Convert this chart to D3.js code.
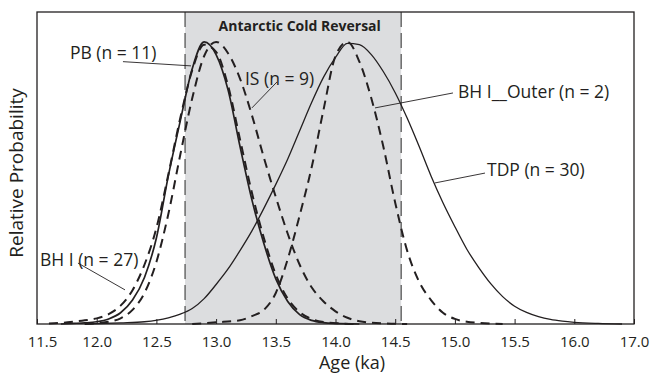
<!DOCTYPE html>
<html>
<head>
<meta charset="utf-8">
<script src="https://cdn.jsdelivr.net/npm/d3@7"></script>
<style>
  body { margin: 0; background: #fff; }
  text { font-family: "Open Sans", "DejaVu Sans", sans-serif; fill: #231f20; }
</style>
</head>
<body>
<svg id="chart" width="664" height="375"></svg>
<script>
// x axis: ticks and the labels printed under them (the original prints 17.0 at the last tick)
const tickValues = [11.5, 12.0, 12.5, 13.0, 13.5, 14.0, 14.5, 15.0, 15.5, 16.0, 16.5];
const tickLabels = ["11.5", "12.0", "12.5", "13.0", "13.5", "14.0", "14.5", "15.0", "15.5", "16.0", "17.0"];

// Antarctic Cold Reversal interval (ka)
const acrInterval = [12.74, 14.55];

// relative probability curves: [age ka, relative probability]
const pb = [
  [11.7, 0], [11.8, 0.002], [11.9, 0.004], [12.0, 0.008], [12.1, 0.018], [12.2, 0.04],
  [12.3, 0.085], [12.4, 0.165], [12.5, 0.305], [12.6, 0.525], [12.7, 0.72], [12.8, 0.905],
  [12.9, 1.0], [13.0, 0.955], [13.1, 0.83], [13.2, 0.63], [13.3, 0.44], [13.4, 0.285],
  [13.5, 0.16], [13.6, 0.08], [13.7, 0.033], [13.8, 0.013], [13.9, 0.005], [14.0, 0.002], [14.2, 0]
];
const bhI = [
  [11.6, 0.002], [11.7, 0.004], [11.8, 0.008], [11.9, 0.013], [12.0, 0.02], [12.1, 0.035],
  [12.2, 0.065], [12.3, 0.12], [12.4, 0.21], [12.5, 0.34], [12.6, 0.53], [12.7, 0.73],
  [12.8, 0.9], [12.9, 0.99], [13.0, 0.965], [13.1, 0.845], [13.2, 0.655], [13.3, 0.465],
  [13.4, 0.305], [13.5, 0.175], [13.6, 0.09], [13.7, 0.042], [13.8, 0.018], [13.9, 0.007],
  [14.0, 0.003], [14.2, 0]
];
const is = [
  [11.9, 0], [12.0, 0.003], [12.1, 0.008], [12.2, 0.02], [12.3, 0.05], [12.4, 0.11],
  [12.5, 0.22], [12.6, 0.39], [12.7, 0.6], [12.8, 0.8], [12.9, 0.95], [13.0, 1.0],
  [13.1, 0.96], [13.2, 0.87], [13.3, 0.74], [13.4, 0.59], [13.5, 0.45], [13.6, 0.32],
  [13.7, 0.21], [13.8, 0.13], [13.9, 0.08], [14.0, 0.045], [14.1, 0.022], [14.2, 0.01],
  [14.4, 0.002], [14.6, 0]
];
const tdp = [
  [11.9, 0], [12.2, 0.004], [12.4, 0.008], [12.6, 0.022], [12.7, 0.035], [12.8, 0.055],
  [12.9, 0.09], [13.0, 0.14], [13.1, 0.195], [13.2, 0.26], [13.3, 0.33], [13.4, 0.41],
  [13.5, 0.495], [13.6, 0.585], [13.7, 0.685], [13.8, 0.785], [13.9, 0.875], [14.0, 0.945],
  [14.1, 0.995], [14.2, 0.99], [14.3, 0.955], [14.4, 0.895], [14.5, 0.82], [14.6, 0.73],
  [14.7, 0.63], [14.8, 0.525], [14.9, 0.43], [15.0, 0.345], [15.1, 0.265], [15.2, 0.2],
  [15.3, 0.143], [15.4, 0.097], [15.5, 0.063], [15.6, 0.041], [15.7, 0.026], [15.8, 0.016],
  [15.9, 0.01], [16.0, 0.006], [16.2, 0.002], [16.4, 0]
];
const bhIOuter = [
  [12.8, 0], [13.0, 0.006], [13.2, 0.013], [13.3, 0.028], [13.4, 0.05], [13.5, 0.11],
  [13.6, 0.23], [13.7, 0.385], [13.8, 0.555], [13.9, 0.76], [14.0, 0.95], [14.1, 1.0],
  [14.2, 0.93], [14.3, 0.8], [14.4, 0.63], [14.5, 0.43], [14.6, 0.26], [14.7, 0.15],
  [14.8, 0.085], [14.9, 0.04], [15.0, 0.018], [15.1, 0.008], [15.2, 0.004], [15.4, 0]
];

const curves = [
  {name: "TDP", data: tdp, dashed: false, width: 1.3},
  {name: "BH I__Outer", data: bhIOuter, dashed: true, width: 2},
  {name: "IS", data: is, dashed: true, width: 2},
  {name: "BH I", data: bhI, dashed: true, width: 2},
  {name: "PB", data: pb, dashed: false, width: 1.7}
];

// labels with their leader lines, in data units
const annotations = [
  {text: "PB (n = 11)", at: [11.776, 0.94], from: [12.22, 0.93], to: [12.79, 0.915]},
  {text: "IS (n = 9)", at: [13.242, 0.848], from: [13.51, 0.858], to: [13.30, 0.766]},
  {text: "BH I (n = 27)", at: [11.525, 0.206], from: [11.843, 0.216], to: [12.237, 0.121]},
  {text: "BH I__Outer (n = 2)", at: [15.026, 0.801], from: [14.984, 0.819], to: [14.331, 0.766]},
  {text: "TDP (n = 30)", at: [15.269, 0.525], from: [15.252, 0.535], to: [14.833, 0.5]}
];

var margin = {top: 12, left: 37, right: 30, bottom: 51};
var width = 664 - margin.left - margin.right;
var height = 375 - margin.top - margin.bottom;
var ink = "#231f20";

var svg = d3.select("#chart")
  .append("g")
  .attr("transform", "translate(" + margin.left + "," + margin.top + ")");

var x = d3.scaleLinear().domain([11.5, 16.5]).range([0, width]);
var y = d3.scaleLinear().domain([0, 1.106]).range([height, 0]);

// shaded ACR band
svg.append("rect")
  .attr("x", x(acrInterval[0]))
  .attr("y", 0)
  .attr("width", x(acrInterval[1]) - x(acrInterval[0]))
  .attr("height", height)
  .attr("fill", "#dcdddf");

svg.selectAll(".acr-edge")
  .data(acrInterval)
  .enter()
  .append("line")
    .attr("class", "acr-edge")
    .attr("x1", function(d) { return x(d); })
    .attr("x2", function(d) { return x(d); })
    .attr("y1", 0)
    .attr("y2", height)
    .attr("stroke", "#4a4a4a")
    .attr("stroke-width", 1.2)
    .attr("stroke-dasharray", "15,6");

svg.append("text")
  .attr("x", x(13.70))
  .attr("y", y(1.039))
  .attr("text-anchor", "middle")
  .attr("font-size", "14px")
  .attr("font-weight", "bold")
  .text("Antarctic Cold Reversal");

// curves
var line = d3.line()
  .curve(d3.curveMonotoneX)
  .x(function(d) { return x(d[0]); })
  .y(function(d) { return y(d[1]); });

svg.selectAll(".curve")
  .data(curves)
  .enter()
  .append("path")
    .attr("class", "curve")
    .attr("d", function(d) { return line(d.data); })
    .attr("fill", "none")
    .attr("stroke", ink)
    .attr("stroke-width", function(d) { return d.width; })
    .attr("stroke-dasharray", function(d) { return d.dashed ? "9,6" : null; });

// x axis with inward ticks
var xAxis = svg.append("g")
  .attr("class", "x-axis")
  .attr("transform", "translate(0," + height + ")")
  .call(d3.axisBottom(x)
    .tickValues(tickValues)
    .tickSizeInner(-5)
    .tickSizeOuter(0)
    .tickFormat(function(d, i) { return tickLabels[i]; }));

xAxis.select(".domain").remove();
xAxis.selectAll(".tick line").attr("stroke", ink).attr("stroke-width", 1);
xAxis.selectAll(".tick text")
  .attr("y", 23)
  .attr("dy", 0)
  .attr("dx", function(d, i) { return i === 0 ? 5 : 0; })
  .attr("fill", ink)
  .style("font-family", "'Open Sans', sans-serif")
  .style("font-size", "15px");

// frame
svg.append("rect")
  .attr("width", width)
  .attr("height", height)
  .attr("fill", "none")
  .attr("stroke", ink)
  .attr("stroke-width", 1.3);

// annotations
var notes = svg.selectAll(".note")
  .data(annotations)
  .enter()
  .append("g")
    .attr("class", "note");

notes.append("line")
  .attr("x1", function(d) { return x(d.from[0]); })
  .attr("y1", function(d) { return y(d.from[1]); })
  .attr("x2", function(d) { return x(d.to[0]); })
  .attr("y2", function(d) { return y(d.to[1]); })
  .attr("stroke", ink)
  .attr("stroke-width", 0.9);

notes.append("text")
  .attr("x", function(d) { return x(d.at[0]); })
  .attr("y", function(d) { return y(d.at[1]); })
  .attr("font-size", "17.5px")
  .text(function(d) { return d.text; });

// axis titles
svg.append("text")
  .attr("x", 315)
  .attr("y", height + 45)
  .attr("text-anchor", "middle")
  .attr("font-size", "18px")
  .text("Age (ka)");

svg.append("text")
  .attr("transform", "translate(-14," + (height / 2 + 5) + ") rotate(-90)")
  .attr("text-anchor", "middle")
  .attr("font-size", "19px")
  .text("Relative Probability");
</script>
</body>
</html>
